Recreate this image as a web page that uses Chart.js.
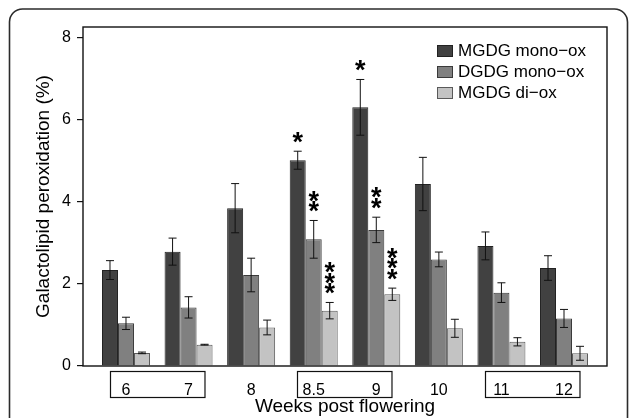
<!DOCTYPE html>
<html>
<head>
<meta charset="utf-8">
<script src="https://cdn.jsdelivr.net/npm/chart.js@4"></script>
<style>
  body { margin: 0; background: #fff; }
  canvas { display: block; }
</style>
</head>
<body>
<canvas id="chart" width="629" height="418"></canvas>
<script>
const weeks = ['6', '7', '8', '8.5', '9', '10', '11', '12']

const mgdgMono = [2.34, 2.79, 3.85, 5.02, 6.31, 4.44, 2.93, 2.39]
const mgdgMonoErr = [0.23, 0.33, 0.6, 0.22, 0.68, 0.65, 0.34, 0.3]
const dgdgMono = [1.04, 1.43, 2.22, 3.09, 3.32, 2.6, 1.79, 1.16]
const dgdgMonoErr = [0.15, 0.26, 0.41, 0.46, 0.31, 0.18, 0.24, 0.22]
const mgdgDi = [0.32, 0.52, 0.94, 1.35, 1.75, 0.92, 0.59, 0.31]
const mgdgDiErr = [0.02, 0.01, 0.18, 0.2, 0.15, 0.22, 0.1, 0.17]

// number of significance stars above each bar
const mgdgMonoStars = [0, 0, 0, 1, 1, 0, 0, 0]
const dgdgMonoStars = [0, 0, 0, 2, 2, 0, 0, 0]
const mgdgDiStars = [0, 0, 0, 3, 3, 0, 0, 0]

// week labels that share a box under the axis (index pairs)
const boxedWeeks = [[0, 1], [3, 4], [6, 7]]

const yTicks = [0, 2, 4, 6, 8]

const font = '"Liberation Sans", Arial, Helvetica, sans-serif'

const toPoints = (values) => values.map((y, i) => ({ x: i, y }))

const series = [
  { label: 'MGDG mono\u2212ox', values: mgdgMono, err: mgdgMonoErr, stars: mgdgMonoStars, fill: '#414141', border: '#222222' },
  { label: 'DGDG mono\u2212ox', values: dgdgMono, err: dgdgMonoErr, stars: dgdgMonoStars, fill: '#808080', border: '#3a3a3a' },
  { label: 'MGDG di\u2212ox', values: mgdgDi, err: mgdgDiErr, stars: mgdgDiStars, fill: '#c3c3c3', border: '#5a5a5a' },
]

const framePlugin = {
  id: 'frame',
  beforeDraw(chart) {
    const { ctx } = chart
    ctx.save()
    ctx.strokeStyle = '#2b2b2b'
    ctx.lineWidth = 1.6
    ctx.beginPath()
    ctx.roundRect(9.5, 9, 618, 440, 13)
    ctx.stroke()
    ctx.restore()
  },
  afterDraw(chart) {
    const { ctx, chartArea: a, scales } = chart
    const x = scales.x
    ctx.save()
    ctx.strokeStyle = '#111'
    ctx.lineWidth = 1.4
    ctx.strokeRect(a.left, a.top, a.right - a.left, a.bottom - a.top)

    ctx.lineWidth = 1.2
    for (const [i, j] of boxedWeeks) {
      const l = x.getPixelForValue(i - 0.26)
      const r = x.getPixelForValue(j + 0.25)
      ctx.strokeRect(Math.round(l) + 0.5, a.bottom + 5.5, r - l, 26)
    }

    // legend
    ctx.font = '17px ' + font
    ctx.textBaseline = 'middle'
    ctx.textAlign = 'left'
    series.forEach((s, k) => {
      const cy = a.top + 24 + k * 21
      const lx = a.right - 170
      ctx.fillStyle = s.fill
      ctx.fillRect(lx, cy - 6, 16, 12)
      ctx.strokeStyle = s.border
      ctx.lineWidth = 1
      ctx.strokeRect(lx + 0.5, cy - 5.5, 15, 11)
      ctx.fillStyle = '#000'
      ctx.fillText(s.label, lx + 21, cy)
    })
    ctx.restore()
  },
  afterDatasetsDraw(chart) {
    const { ctx, scales } = chart
    const y = scales.y
    ctx.save()
    series.forEach((s, d) => {
      const meta = chart.getDatasetMeta(d)
      meta.data.forEach((bar, i) => {
        const top = y.getPixelForValue(s.values[i] + s.err[i])
        const bottom = y.getPixelForValue(s.values[i] - s.err[i])
        ctx.strokeStyle = '#111'
        ctx.lineWidth = 1
        ctx.beginPath()
        ctx.moveTo(bar.x, top)
        ctx.lineTo(bar.x, bottom)
        ctx.moveTo(bar.x - 4, top)
        ctx.lineTo(bar.x + 4, top)
        ctx.moveTo(bar.x - 4, bottom)
        ctx.lineTo(bar.x + 4, bottom)
        ctx.stroke()

        ctx.fillStyle = '#000'
        ctx.font = 'bold 27px ' + font
        ctx.textAlign = 'center'
        ctx.textBaseline = 'alphabetic'
        for (let k = 0; k < s.stars[i]; k++) {
          const cy = top - 16 - k * 10.5
          ctx.fillText('*', bar.x, cy + 0.58 * 27)
        }
      })
    })
    ctx.restore()
  },
}

new Chart(document.getElementById('chart'), {
  type: 'bar',
  data: {
    datasets: series.map((s) => ({
      label: s.label,
      data: toPoints(s.values),
      backgroundColor: s.fill,
      borderColor: s.border,
      borderWidth: 1,
      categoryPercentage: 0.767,
      barPercentage: 1,
    })),
  },
  options: {
    responsive: false,
    animation: false,
    devicePixelRatio: 1,
    layout: { padding: { top: 27, right: 22, bottom: 0, left: 0 } },
    plugins: {
      legend: { display: false },
      tooltip: { enabled: false },
    },
    scales: {
      x: {
        type: 'linear',
        min: -0.687,
        max: 7.687,
        offset: false,
        afterBuildTicks: (scale) => {
          scale.ticks = weeks.map((w, i) => ({ value: i }))
        },
        afterFit: (scale) => {
          scale.height = 52
        },
        border: { display: false },
        grid: { display: false, offset: false },
        ticks: {
          autoSkip: false,
          maxRotation: 0,
          padding: 7,
          color: '#000',
          font: { family: font, size: 16 },
          callback: (v) => weeks[v],
        },
        title: {
          display: true,
          text: 'Weeks post flowering',
          color: '#000',
          padding: 0,
          font: { family: font, size: 19 },
        },
      },
      y: {
        min: 0,
        max: 8.27,
        afterBuildTicks: (scale) => {
          scale.ticks = yTicks.map((v) => ({ value: v }))
        },
        afterFit: (scale) => {
          scale.width = 83
        },
        border: { display: false },
        grid: {
          drawOnChartArea: false,
          tickLength: 6,
          color: '#111',
          lineWidth: 1.2,
        },
        ticks: {
          padding: 6,
          color: '#000',
          font: { family: font, size: 16 },
        },
        title: {
          display: true,
          text: 'Galactolipid peroxidation (%)',
          color: '#000',
          padding: { top: 32, bottom: 0 },
          font: { family: font, size: 19 },
        },
      },
    },
  },
  plugins: [framePlugin],
})
</script>
</body>
</html>
